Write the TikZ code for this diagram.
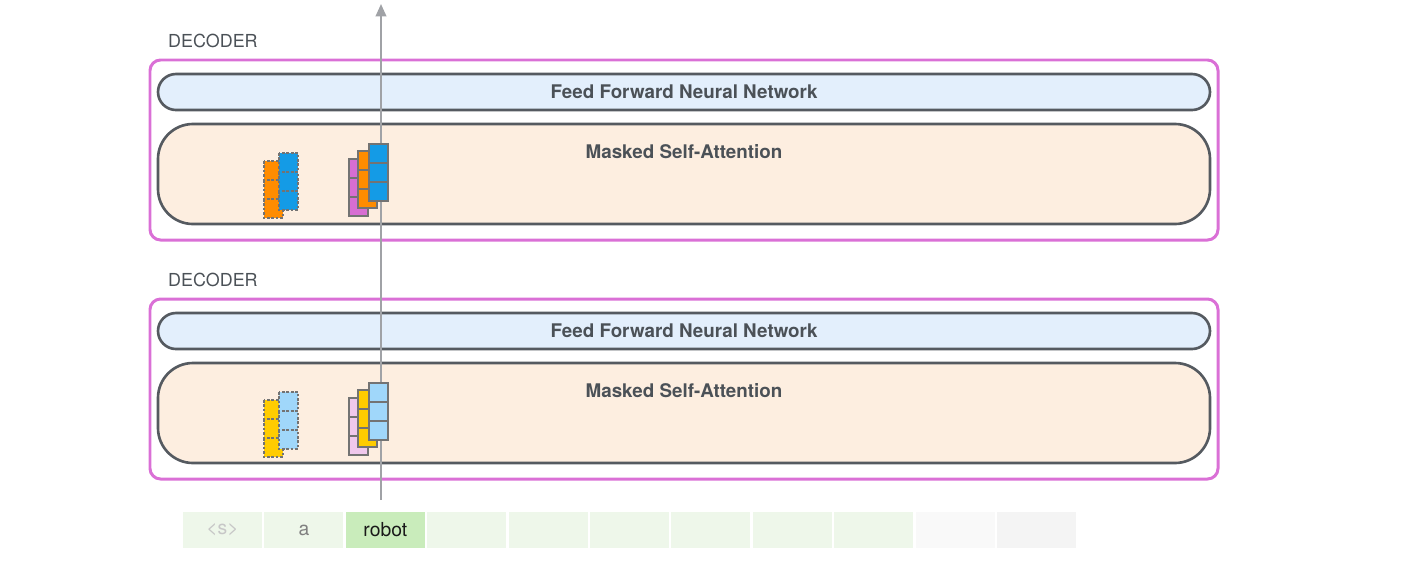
\documentclass[tikz,border=0pt]{standalone}
\usepackage{fontspec}
\setmainfont{TeX Gyre Heros}
\usetikzlibrary{arrows.meta}

\definecolor{decpink}{RGB}{218,112,214}
\definecolor{boxline}{RGB}{85,90,96}
\definecolor{ffnnfill}{RGB}{227,239,252}
\definecolor{attnfill}{RGB}{253,238,224}
\definecolor{labelgray}{RGB}{75,81,87}
\definecolor{arrowgray}{RGB}{160,162,166}
\definecolor{vorange}{RGB}{255,140,0}
\definecolor{vblue}{RGB}{20,155,230}
\definecolor{vpurple}{RGB}{215,110,210}
\definecolor{vyellow}{RGB}{255,204,0}
\definecolor{vlblue}{RGB}{160,215,250}
\definecolor{vlpink}{RGB}{240,200,236}
\definecolor{tokgreen}{RGB}{238,247,234}
\definecolor{tokactive}{RGB}{201,236,187}

\begin{document}
\begin{tikzpicture}[x=0.02cm,y=-0.02cm,
		outerbox/.style={draw=decpink,line width=1.7pt,rounded corners=6pt},
		ffnnbox/.style={draw=boxline,fill=ffnnfill,line width=1.5pt,rounded corners=0.36cm},
		attnbox/.style={draw=boxline,fill=attnfill,line width=1.5pt,rounded corners=0.7cm},
		boxlabel/.style={font=\bfseries\fontsize{10.7}{12}\selectfont,text=labelgray},
		declabel/.style={font=\fontsize{10.2}{12}\selectfont,text=labelgray,anchor=west},
		cell/.style={draw=black!55,line width=1.1pt},
		dashcell/.style={draw=black!55,line width=0.9pt,dash pattern=on 1.5pt off 1pt},
		tok/.style={minimum width=1.58cm,minimum height=0.72cm,inner sep=0pt,font=\fontsize{11}{12}\selectfont}]
		
		\useasboundingbox (0,0) rectangle (1404,562);
		
		% the two decoder blocks
		\foreach \dy/\n in {0/top, 239/bot}{
			\draw[outerbox] (150,60+\dy) rectangle (1218,240+\dy);
			\node[declabel] (dec\n) at (162,41+\dy) {DECODER};
			\draw[ffnnbox] (158,74+\dy) rectangle (1210,110+\dy);
			\node[boxlabel] (ffnn\n) at (684,92+\dy) {Feed Forward Neural Network};
			\draw[attnbox] (158,124+\dy) rectangle (1210,224+\dy);
			\node[boxlabel] (attn\n) at (684,152+\dy) {Masked Self-Attention};
		}
		
		% input tokens
		\foreach \i/\t/\f/\c in {0/{<s>}/tokgreen/black!22, 1/a/tokgreen/black!50,
			2/robot/tokactive/black!90, 3/{}/tokgreen/black, 4/{}/tokgreen/black,
			5/{}/tokgreen/black, 6/{}/tokgreen/black, 7/{}/tokgreen/black,
			8/{}/tokgreen/black, 9/{}/black!2.5/black, 10/{}/black!4.5/black}
			\node[tok,fill=\f,text=\c] (tok\i) at (222.5+81.4*\i,530) {\t};
		
		% path of the current token
		\coordinate (pathbot) at (381,500);
		\coordinate (pathtop) at (381,4);
		\draw[arrowgray,line width=1.1pt,-{Triangle[length=7pt,width=6pt]}] (pathbot) -- (pathtop);
		
		% query / key / value vectors
		\foreach \dy/\ca/\cb/\cc in {0/vorange/vblue/vpurple, 239/vyellow/vlblue/vlpink}{
			\foreach \vx/\vy/\vc/\vs in {264/161/\ca/dashcell, 279/153/\cb/dashcell,
				349/159/\cc/cell, 358/151/\ca/cell, 369/144/\cb/cell}{
				\foreach \k in {0,1,2}
					\draw[\vs,fill=\vc] (\vx,\vy+\dy+19*\k) rectangle ++(19,19);
			}
		}
	\end{tikzpicture}
\end{document}
